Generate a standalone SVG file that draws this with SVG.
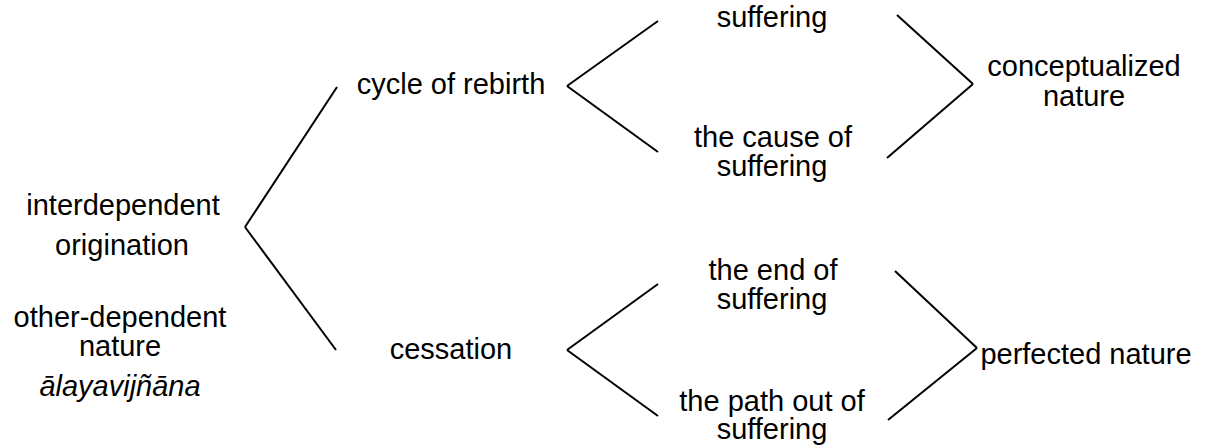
<svg xmlns="http://www.w3.org/2000/svg" width="1208" height="447" viewBox="0 0 1208 447">
<style>
text{font-family:"Liberation Sans",Arial,sans-serif;font-size:29px;fill:#000;text-anchor:middle}
.it{font-style:italic}
#connectors line{stroke:#000;stroke-width:2;stroke-linecap:butt}
</style>
<rect width="1208" height="447" fill="#fff"/>
<g id="connectors">
<line x1="337" y1="87" x2="245" y2="227"/>
<line x1="245" y1="227" x2="336" y2="350"/>
<line x1="658" y1="21" x2="567" y2="86"/>
<line x1="567" y1="86" x2="658" y2="152"/>
<line x1="897" y1="15" x2="973" y2="84"/>
<line x1="973" y1="84" x2="887" y2="158"/>
<line x1="658" y1="284" x2="567" y2="350"/>
<line x1="567" y1="350" x2="658" y2="416"/>
<line x1="895" y1="271" x2="977" y2="348"/>
<line x1="977" y1="348" x2="888" y2="420"/>
</g>
<g id="root"><text x="123" y="215">interdependent</text><text x="122" y="255">origination</text><text x="120" y="327">other-dependent</text><text x="120" y="356">nature</text><text class="it" x="120" y="396">ālayavijñāna</text></g>
<g id="cycle"><text x="451" y="94">cycle of rebirth</text></g>
<g id="cessation"><text x="451" y="359">cessation</text></g>
<g id="suffering"><text x="772" y="27">suffering</text></g>
<g id="cause"><text x="773" y="147">the cause of</text><text x="772" y="176">suffering</text></g>
<g id="end"><text x="773" y="280">the end of</text><text x="772" y="309">suffering</text></g>
<g id="path"><text x="772" y="411">the path out of</text><text x="772" y="439">suffering</text></g>
<g id="conceptualized"><text x="1084" y="76">conceptualized</text><text x="1084" y="106">nature</text></g>
<g id="perfected"><text x="1086" y="364">perfected nature</text></g>
</svg>
